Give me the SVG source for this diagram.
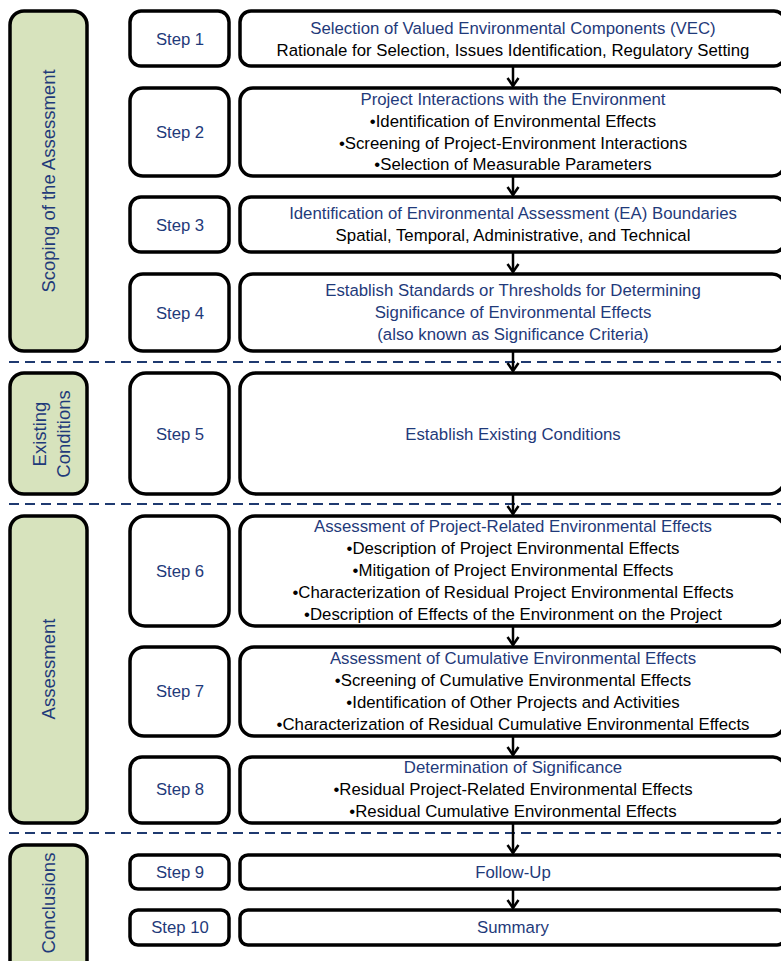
<svg xmlns="http://www.w3.org/2000/svg" width="781" height="961" viewBox="0 0 781 961">
<style>
  .side{fill:#d7e3bd;stroke:#000;stroke-width:3.5}
  .box{fill:#fff;stroke:#000;stroke-width:3.5}
  .sep{stroke:#1f3a70;stroke-width:2.2;stroke-dasharray:10 6;fill:none}
  .conn{stroke:#000;stroke-width:2.5;fill:none;marker-end:url(#arr)}
  text{font-family:"Liberation Sans",Arial,sans-serif;font-size:16.8px;text-anchor:middle}
  .h{fill:#1f3a7a}
  .b{fill:#000}
  .lbl{fill:#1f3a7a;font-size:16.7px}
  .sl{fill:#1f3a7a;font-size:18.5px}
</style>
<defs>
  <marker id="arr" markerUnits="userSpaceOnUse" viewBox="0 0 14 11" refX="7" refY="9.5" markerWidth="14" markerHeight="11" orient="0">
    <path d="M1.5,1.5 L7,9.5 L12.5,1.5" fill="none" stroke="#000" stroke-width="2.5" stroke-linejoin="miter"/>
  </marker>
</defs>
<rect width="781" height="961" fill="#fff"/>

<g id="separators">
  <line class="sep" x1="9" y1="362" x2="781" y2="362"/>
  <line class="sep" x1="9" y1="504" x2="781" y2="504"/>
  <line class="sep" x1="9" y1="833" x2="781" y2="833"/>
</g>

<g id="phase-scoping">
  <rect class="side" x="10" y="11" width="77" height="340" rx="14"/>
  <text class="sl" transform="translate(55,181) rotate(-90)">Scoping of the Assessment</text>
</g>
<g id="phase-existing">
  <rect class="side" x="10" y="373" width="77" height="121" rx="14"/>
  <text class="sl" transform="translate(46,434) rotate(-90)">Existing</text>
  <text class="sl" transform="translate(70,434) rotate(-90)">Conditions</text>
</g>
<g id="phase-assessment">
  <rect class="side" x="10" y="516" width="77" height="307" rx="14"/>
  <text class="sl" transform="translate(55,669) rotate(-90)">Assessment</text>
</g>
<g id="phase-conclusions">
  <rect class="side" x="10" y="845" width="77" height="130" rx="14"/>
  <text class="sl" transform="translate(55,903) rotate(-90)">Conclusions</text>
</g>

<g id="step1">
  <rect class="box" x="130" y="11" width="99" height="55" rx="11"/>
  <text class="lbl" x="180" y="45">Step 1</text>
  <rect class="box" x="240" y="11" width="545" height="55" rx="11"/>
  <text class="h" x="513" y="34">Selection of Valued Environmental Components (VEC)</text>
  <text class="b" x="513" y="56">Rationale for Selection, Issues Identification, Regulatory Setting</text>
</g>
<g id="step2">
  <rect class="box" x="130" y="88" width="99" height="88" rx="13"/>
  <text class="lbl" x="180" y="138">Step 2</text>
  <rect class="box" x="240" y="88" width="545" height="88" rx="13"/>
  <text class="h" x="513" y="105">Project Interactions with the Environment</text>
  <text class="b" x="513" y="127">•Identification of Environmental Effects</text>
  <text class="b" x="513" y="149">•Screening of Project-Environment Interactions</text>
  <text class="b" x="513" y="170">•Selection of Measurable Parameters</text>
</g>
<g id="step3">
  <rect class="box" x="130" y="197" width="99" height="55" rx="11"/>
  <text class="lbl" x="180" y="231">Step 3</text>
  <rect class="box" x="240" y="197" width="545" height="55" rx="11"/>
  <text class="h" x="513" y="219">Identification of Environmental Assessment (EA) Boundaries</text>
  <text class="b" x="513" y="241">Spatial, Temporal, Administrative, and Technical</text>
</g>
<g id="step4">
  <rect class="box" x="130" y="274" width="99" height="77" rx="13"/>
  <text class="lbl" x="180" y="319">Step 4</text>
  <rect class="box" x="240" y="274" width="545" height="77" rx="13"/>
  <text class="h" x="513" y="296">Establish Standards or Thresholds for Determining</text>
  <text class="h" x="513" y="318">Significance of Environmental Effects</text>
  <text class="h" x="513" y="340">(also known as Significance Criteria)</text>
</g>
<g id="step5">
  <rect class="box" x="130" y="373" width="99" height="121" rx="16"/>
  <text class="lbl" x="180" y="440">Step 5</text>
  <rect class="box" x="240" y="373" width="545" height="121" rx="16"/>
  <text class="h" x="513" y="440">Establish Existing Conditions</text>
</g>
<g id="step6">
  <rect class="box" x="130" y="516" width="99" height="110" rx="15"/>
  <text class="lbl" x="180" y="577">Step 6</text>
  <rect class="box" x="240" y="516" width="545" height="110" rx="15"/>
  <text class="h" x="513" y="532">Assessment of Project-Related Environmental Effects</text>
  <text class="b" x="513" y="554">•Description of Project Environmental Effects</text>
  <text class="b" x="513" y="576">•Mitigation of Project Environmental Effects</text>
  <text class="b" x="513" y="598">•Characterization of Residual Project Environmental Effects</text>
  <text class="b" x="513" y="620">•Description of Effects of the Environment on the Project</text>
</g>
<g id="step7">
  <rect class="box" x="130" y="647" width="99" height="89" rx="14"/>
  <text class="lbl" x="180" y="697">Step 7</text>
  <rect class="box" x="240" y="647" width="545" height="89" rx="14"/>
  <text class="h" x="513" y="664">Assessment of Cumulative Environmental Effects</text>
  <text class="b" x="513" y="686">•Screening of Cumulative Environmental Effects</text>
  <text class="b" x="513" y="708">•Identification of Other Projects and Activities</text>
  <text class="b" x="513" y="730">•Characterization of Residual Cumulative Environmental Effects</text>
</g>
<g id="step8">
  <rect class="box" x="130" y="757" width="99" height="66" rx="12"/>
  <text class="lbl" x="180" y="795">Step 8</text>
  <rect class="box" x="240" y="757" width="545" height="66" rx="12"/>
  <text class="h" x="513" y="773">Determination of Significance</text>
  <text class="b" x="513" y="795">•Residual Project-Related Environmental Effects</text>
  <text class="b" x="513" y="817">•Residual Cumulative Environmental Effects</text>
</g>
<g id="step9">
  <rect class="box" x="130" y="855" width="99" height="34" rx="8"/>
  <text class="lbl" x="180" y="878">Step 9</text>
  <rect class="box" x="240" y="855" width="545" height="34" rx="8"/>
  <text class="h" x="513" y="878">Follow-Up</text>
</g>
<g id="step10">
  <rect class="box" x="130" y="910" width="99" height="35" rx="8"/>
  <text class="lbl" x="180" y="933">Step 10</text>
  <rect class="box" x="240" y="910" width="545" height="35" rx="8"/>
  <text class="h" x="513" y="933">Summary</text>
</g>

<g id="connectors">
  <line class="conn" x1="513" y1="67" x2="513" y2="86"/>
  <line class="conn" x1="513" y1="177" x2="513" y2="195"/>
  <line class="conn" x1="513" y1="253" x2="513" y2="272"/>
  <line class="conn" x1="513" y1="352" x2="513" y2="371"/>
  <line class="conn" x1="513" y1="495" x2="513" y2="514"/>
  <line class="conn" x1="513" y1="627" x2="513" y2="645"/>
  <line class="conn" x1="513" y1="737" x2="513" y2="755"/>
  <line class="conn" x1="513" y1="824" x2="513" y2="853"/>
  <line class="conn" x1="513" y1="890" x2="513" y2="908"/>
</g>
</svg>
